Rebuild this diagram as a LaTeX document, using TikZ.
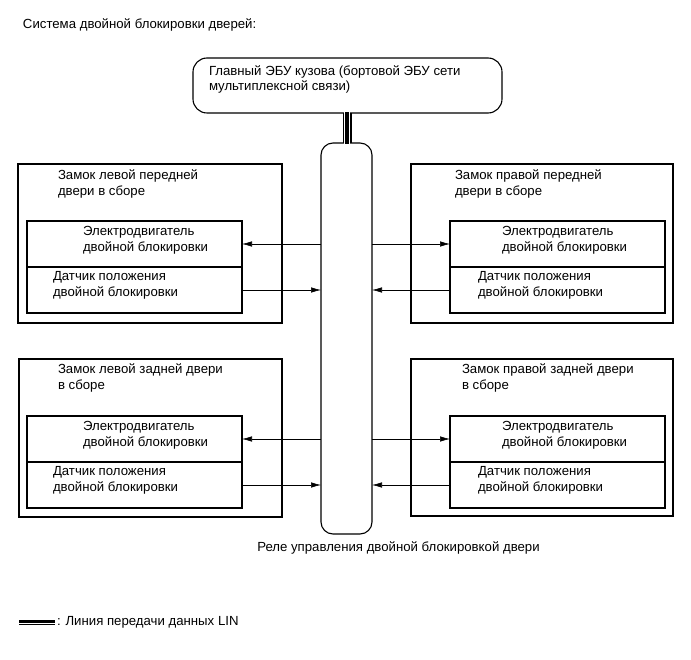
\documentclass[tikz,border=0pt]{standalone}
\usepackage{fontspec}
\setmainfont{Liberation Sans}
\usetikzlibrary{arrows.meta}
\begin{document}
\begin{tikzpicture}[x=1pt,y=-1pt,
  every node/.style={inner sep=0pt,outer sep=0pt},
  txt/.style={anchor=west,align=left,font=\fontsize{13.2}{16}\selectfont},
  outerbox/.style={draw,line width=1.1pt,anchor=north west},
  innerbox/.style={draw,line width=1.1pt,anchor=north west,minimum width=215pt,minimum height=46pt},
  arr/.style={line width=0.6pt,-{Latex[length=10pt,width=5.5pt]}},
]
\useasboundingbox (0,0) rectangle (691,660);
% title
\node[txt] (title) at (23,25) {Система двойной блокировки дверей:};
% ECU
\node[draw,line width=1.1pt,rounded corners=14pt,anchor=north west,minimum width=309pt,minimum height=55pt] (ecu) at (193,58) {};
\node[txt,font=\fontsize{13.2}{15}\selectfont] (ecut) at (209,79) {Главный ЭБУ кузова (бортовой ЭБУ сети\\мультиплексной связи)};
% relay
\node[draw,line width=1.1pt,rounded corners=12pt,anchor=north west,minimum width=51pt,minimum height=391pt] (relay) at (321,143) {};
\node[txt,anchor=center] (relayt) at (398.5,548) {Реле управления двойной блокировкой двери};
% LIN line
\draw[line width=9pt,black] (ecu.south -| 347,0) -- (relay.north -| 347,0);
\draw[line width=6pt,white] ([yshift=0.6pt]ecu.south -| 347,0) -- ([yshift=-0.6pt]relay.north -| 347,0);
\draw[line width=4pt,black] ([yshift=0.6pt]ecu.south -| 347,0) -- ([yshift=-0.6pt]relay.north -| 347,0);
% left front
\node[outerbox,minimum width=264pt,minimum height=159pt] (lf) at (18,164) {};
\node[txt] (lft) at (58,183.5) {Замок левой передней\\двери в сборе};
\node[innerbox] (lfm) at (27,221) {};
\node[innerbox] (lfs) at (27,267) {};
\node[txt] (lfmt) at (83,240) {Электродвигатель\\двойной блокировки};
\node[txt] (lfst) at (53,285) {Датчик положения\\двойной блокировки};
% right front
\node[outerbox,minimum width=262pt,minimum height=159pt] (rf) at (411,164) {};
\node[txt] (rft) at (455,183.5) {Замок правой передней\\двери в сборе};
\node[innerbox] (rfm) at (450,221) {};
\node[innerbox] (rfs) at (450,267) {};
\node[txt] (rfmt) at (502,240) {Электродвигатель\\двойной блокировки};
\node[txt] (rfst) at (478,285) {Датчик положения\\двойной блокировки};
% left rear
\node[outerbox,minimum width=263pt,minimum height=158pt] (lr) at (19,359) {};
\node[txt] (lrt) at (58,377.5) {Замок левой задней двери\\в сборе};
\node[innerbox] (lrm) at (27,416) {};
\node[innerbox] (lrs) at (27,462) {};
\node[txt] (lrmt) at (83,435) {Электродвигатель\\двойной блокировки};
\node[txt] (lrst) at (53,480) {Датчик положения\\двойной блокировки};
% right rear
\node[outerbox,minimum width=262pt,minimum height=157pt] (rr) at (411,359) {};
\node[txt] (rrt) at (462,377.5) {Замок правой задней двери\\в сборе};
\node[innerbox] (rrm) at (450,416) {};
\node[innerbox] (rrs) at (450,462) {};
\node[txt] (rrmt) at (502,435) {Электродвигатель\\двойной блокировки};
\node[txt] (rrst) at (478,480) {Датчик положения\\двойной блокировки};
% arrows
\draw[arr] (relay.west |- lfm.east) -- (lfm.east);
\draw[arr] (lfs.east) -- (relay.west |- lfs.east);
\draw[arr] (relay.east |- rfm.west) -- (rfm.west);
\draw[arr] (rfs.west) -- (relay.east |- rfs.west);
\draw[arr] (relay.west |- lrm.east) -- (lrm.east);
\draw[arr] (lrs.east) -- (relay.west |- lrs.east);
\draw[arr] (relay.east |- rrm.west) -- (rrm.west);
\draw[arr] (rrs.west) -- (relay.east |- rrs.west);
% legend
\coordinate (lg1) at (19,622);
\coordinate (lg2) at (55,622);
\draw[line width=5pt,black] (lg1) -- (lg2);
\draw[line width=3pt,white] (lg1) -- (lg2);
\draw[line width=2pt,black] (lg1) -- (lg2);
\node[txt] (legt) at (57,622) {: Линия передачи данных LIN};
\end{tikzpicture}
\end{document}
